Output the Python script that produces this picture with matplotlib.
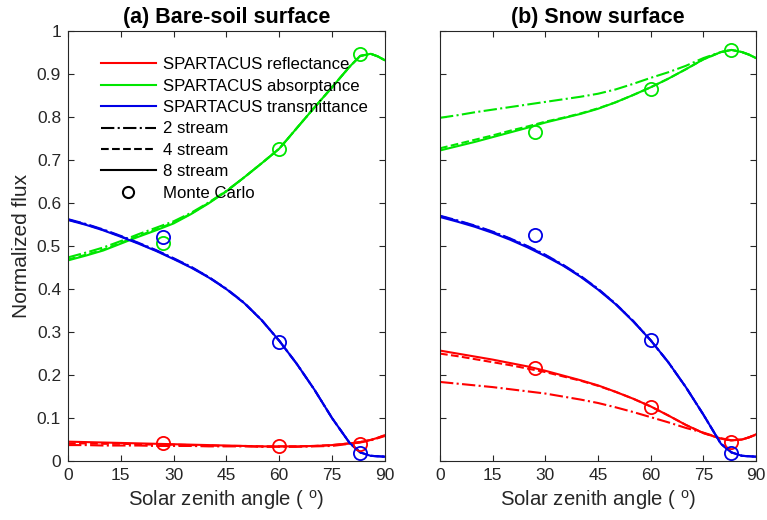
import numpy as np
import matplotlib
matplotlib.use('Agg')
import matplotlib.pyplot as plt
from matplotlib.lines import Line2D

plt.rcParams['font.family'] = ['Liberation Sans', 'DejaVu Sans']
plt.rcParams['mathtext.fontset'] = 'custom'
plt.rcParams['mathtext.rm'] = 'Liberation Sans'

# solar zenith angle (degrees) at which curves were read
sza = [0, 5, 10, 15, 20, 25, 30, 35, 40, 45, 50, 55, 60, 65, 70, 75, 80, 83, 86, 88, 90]

# (a) bare-soil surface
a_refl_8 = [0.045, 0.044, 0.043, 0.042, 0.041, 0.040, 0.039, 0.038, 0.037, 0.036, 0.035, 0.034, 0.034,
            0.034, 0.035, 0.037, 0.041, 0.044, 0.049, 0.054, 0.060]
a_refl_4 = [0.041, 0.041, 0.040, 0.040, 0.039, 0.038, 0.038, 0.037, 0.036, 0.035, 0.035, 0.034, 0.034,
            0.034, 0.035, 0.037, 0.041, 0.044, 0.049, 0.054, 0.060]
a_refl_2 = [0.037, 0.037, 0.036, 0.036, 0.036, 0.035, 0.035, 0.035, 0.034, 0.034, 0.034, 0.033, 0.033,
            0.033, 0.034, 0.035, 0.040, 0.043, 0.048, 0.053, 0.058]
a_abs_8 = [0.467, 0.478, 0.490, 0.506, 0.522, 0.537, 0.553, 0.575, 0.600, 0.628, 0.660, 0.693, 0.727,
           0.775, 0.823, 0.870, 0.918, 0.943, 0.948, 0.942, 0.933]
a_abs_4 = [0.469, 0.480, 0.492, 0.508, 0.524, 0.539, 0.555, 0.576, 0.601, 0.628, 0.660, 0.693, 0.727,
           0.775, 0.823, 0.870, 0.918, 0.943, 0.948, 0.942, 0.933]
a_abs_2 = [0.474, 0.485, 0.497, 0.512, 0.528, 0.543, 0.558, 0.578, 0.602, 0.629, 0.660, 0.693, 0.727,
           0.775, 0.823, 0.870, 0.918, 0.943, 0.948, 0.942, 0.933]
a_tran_8 = [0.561, 0.550, 0.537, 0.522, 0.506, 0.489, 0.470, 0.450, 0.427, 0.400, 0.368, 0.328, 0.280,
            0.226, 0.166, 0.100, 0.042, 0.020, 0.012, 0.011, 0.010]
a_tran_4 = [0.562, 0.551, 0.538, 0.523, 0.507, 0.490, 0.471, 0.451, 0.428, 0.400, 0.368, 0.328, 0.280,
            0.226, 0.166, 0.100, 0.042, 0.020, 0.012, 0.011, 0.010]
a_tran_2 = [0.563, 0.552, 0.539, 0.524, 0.508, 0.491, 0.472, 0.452, 0.428, 0.401, 0.369, 0.328, 0.280,
            0.226, 0.166, 0.100, 0.042, 0.020, 0.012, 0.011, 0.010]

# (b) snow surface
b_refl_8 = [0.257, 0.250, 0.243, 0.236, 0.228, 0.220, 0.210, 0.199, 0.188, 0.176, 0.161, 0.145, 0.127,
            0.106, 0.084, 0.065, 0.052, 0.048, 0.050, 0.055, 0.062]
b_refl_4 = [0.250, 0.244, 0.237, 0.230, 0.223, 0.215, 0.207, 0.197, 0.187, 0.175, 0.161, 0.145, 0.127,
            0.106, 0.084, 0.065, 0.052, 0.048, 0.050, 0.055, 0.062]
b_refl_2 = [0.184, 0.180, 0.176, 0.172, 0.167, 0.162, 0.157, 0.150, 0.143, 0.135, 0.125, 0.114, 0.102,
            0.090, 0.077, 0.066, 0.053, 0.048, 0.050, 0.055, 0.061]
b_abs_8 = [0.723, 0.733, 0.743, 0.754, 0.765, 0.776, 0.788, 0.798, 0.808, 0.820, 0.835, 0.852, 0.870,
           0.890, 0.912, 0.935, 0.952, 0.957, 0.952, 0.946, 0.938]
b_abs_4 = [0.728, 0.738, 0.748, 0.758, 0.769, 0.779, 0.790, 0.799, 0.809, 0.821, 0.835, 0.852, 0.870,
           0.890, 0.912, 0.935, 0.952, 0.957, 0.952, 0.946, 0.938]
b_abs_2 = [0.799, 0.805, 0.812, 0.818, 0.824, 0.830, 0.836, 0.842, 0.848, 0.855, 0.865, 0.878, 0.892,
           0.905, 0.920, 0.938, 0.952, 0.957, 0.952, 0.946, 0.938]
b_tran_8 = [0.568, 0.557, 0.545, 0.531, 0.515, 0.497, 0.477, 0.455, 0.429, 0.399, 0.365, 0.325, 0.281,
            0.230, 0.172, 0.108, 0.040, 0.020, 0.012, 0.011, 0.010]
b_tran_4 = [0.570, 0.559, 0.547, 0.533, 0.517, 0.499, 0.479, 0.456, 0.430, 0.400, 0.366, 0.326, 0.281,
            0.230, 0.172, 0.108, 0.040, 0.020, 0.012, 0.011, 0.010]
b_tran_2 = [0.571, 0.560, 0.548, 0.534, 0.518, 0.500, 0.480, 0.457, 0.431, 0.401, 0.366, 0.326, 0.281,
            0.230, 0.172, 0.108, 0.040, 0.020, 0.012, 0.011, 0.010]

# Monte Carlo reference points
mc_sza = [27, 60, 83]
a_mc_refl = [0.041, 0.034, 0.040]
a_mc_abs = [0.507, 0.727, 0.947]
a_mc_tran = [0.521, 0.278, 0.018]
b_mc_refl = [0.217, 0.125, 0.045]
b_mc_abs = [0.766, 0.866, 0.956]
b_mc_tran = [0.525, 0.281, 0.018]

RED, GREEN, BLUE = '#ff0000', '#00e600', '#0000e6'
TXT = '#262626'

fig = plt.figure(figsize=(7.67, 5.2), dpi=100)
ax1 = fig.add_axes([0.0887, 0.1135, 0.413, 0.826])
ax2 = fig.add_axes([0.5737, 0.1135, 0.412, 0.826])

panels = [
    (ax1, '(a) Bare-soil surface',
     (a_refl_2, a_refl_4, a_refl_8), (a_abs_2, a_abs_4, a_abs_8), (a_tran_2, a_tran_4, a_tran_8),
     (a_mc_refl, a_mc_abs, a_mc_tran)),
    (ax2, '(b) Snow surface',
     (b_refl_2, b_refl_4, b_refl_8), (b_abs_2, b_abs_4, b_abs_8), (b_tran_2, b_tran_4, b_tran_8),
     (b_mc_refl, b_mc_abs, b_mc_tran)),
]

styles = ['-.', '--', '-']
for ax, title, refl, absp, tran, mc in panels:
    for col, series in zip([RED, GREEN, BLUE], [refl, absp, tran]):
        for ls, y in zip(styles, series):
            ax.plot(sza, y, color=col, ls=ls, lw=1.5)
    for col, y in zip([RED, GREEN, BLUE], mc):
        ax.plot(mc_sza, y, 'o', mfc='none', mec=col, ms=9.5, mew=1.3)

    ax.set_xlim(0, 90)
    ax.set_ylim(0, 1)
    ax.set_xticks(np.arange(0, 91, 15))
    ax.set_yticks(np.arange(0, 1.01, 0.1))
    ax.set_yticklabels(['0', '0.1', '0.2', '0.3', '0.4', '0.5', '0.6', '0.7', '0.8', '0.9', '1'])
    ax.tick_params(direction='in', top=True, right=True, length=4, width=0.8,
                   labelsize=12.5, colors=TXT, pad=5)
    for sp in ax.spines.values():
        sp.set_color(TXT)
        sp.set_linewidth(0.8)
    ax.set_title(title, fontsize=15.5, fontweight='bold', pad=6)
    ax.set_xlabel('Solar zenith angle ( $^{\\rm o}$)', fontsize=14.6, color=TXT, labelpad=4)

ax1.set_ylabel('Normalized flux', fontsize=15, color=TXT, labelpad=4)
ax2.set_yticklabels([])

handles = [
    Line2D([], [], color=RED, lw=1.5),
    Line2D([], [], color=GREEN, lw=1.5),
    Line2D([], [], color=BLUE, lw=1.5),
    Line2D([], [], color='k', lw=1.5, ls='-.'),
    Line2D([], [], color='k', lw=1.5, ls='--'),
    Line2D([], [], color='k', lw=1.5),
    Line2D([], [], color='k', ls='none', marker='o', mfc='none', ms=8, mew=1.5),
]
labels = ['SPARTACUS reflectance', 'SPARTACUS absorptance', 'SPARTACUS transmittance',
          '2 stream', '4 stream', '8 stream', 'Monte Carlo']
leg = ax1.legend(handles, labels, loc='upper left', bbox_to_anchor=(0.055, 0.975), frameon=False,
                 handlelength=3.3, handletextpad=0.4, labelspacing=0.38,
                 prop={'size': 12.1})
for t in leg.get_texts():
    t.set_color('k')

fig.savefig('out.png', dpi=100)
